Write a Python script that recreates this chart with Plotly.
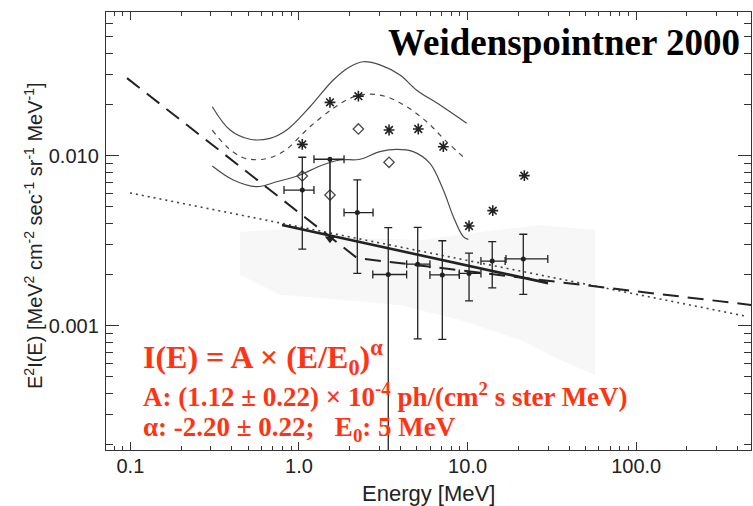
import numpy as np
import plotly.graph_objects as go

# ---- data ----
# measured points with error bars
E_pts = [1.046, 2.218, 3.385, 5.06, 7.08, 10.2, 14.0, 21.4]
V_pts = [0.00628, 0.00463, 0.00200, 0.00230, 0.00199, 0.00203, 0.00240, 0.00247]
V_hi = [0.00979, 0.00720, 0.00377, 0.00379, 0.00316, 0.00267, 0.00312, 0.00345]
V_lo = [0.00282, 0.00203, 0.0001, 0.000836, 0.000832, 0.00140, 0.00167, 0.00153]
E_lo = [0.815, 1.85, 2.74, 4.35, 5.98, 8.93, 12.0, 16.9]
E_hi = [1.227, 2.75, 4.35, 5.98, 8.93, 12.0, 16.7, 29.9]

# upper limit point
E_ul = [1.527]
V_ul = [0.00953]
E_ul_lo = [1.227]
E_ul_hi = [1.85]
V_ul_arrow = [0.00325]

# asterisks and diamonds
E_ast = [1.046, 1.527, 2.25, 3.42, 5.10, 7.18, 10.2, 14.1, 21.7]
V_ast = [0.01166, 0.0206, 0.0224, 0.01416, 0.01436, 0.0113, 0.00386, 0.00475, 0.00763]
E_dia = [1.046, 1.527, 2.25, 3.42]
V_dia = [0.0076, 0.00587, 0.01436, 0.00915]

# thin curves
E_up = [0.306, 0.390, 0.512, 0.673, 0.846, 1.162, 1.597, 2.005, 2.405, 3.02, 3.97, 4.99, 6.86, 9.88]
V_up = [0.0194, 0.01415, 0.01249, 0.01265, 0.01415, 0.0194, 0.0279, 0.0334, 0.0357, 0.0342, 0.0298, 0.0243, 0.01987, 0.01553]
E_mid = [0.306, 0.373, 0.467, 0.614, 0.807, 1.162, 1.597, 2.005, 2.52, 3.31, 4.35, 5.72, 7.52, 9.88]
V_mid = [0.01415, 0.0113, 0.00973, 0.00953, 0.01057, 0.01481, 0.0190, 0.02176, 0.02297, 0.02223, 0.0194, 0.01585, 0.01207, 0.00943]
E_low = [0.306, 0.408, 0.561, 0.738, 1.014, 1.332, 1.75, 2.30, 3.02, 3.80, 4.76, 5.98, 7.18, 8.23, 9.43, 10.1]
V_low = [0.00870, 0.00719, 0.00657, 0.00703, 0.0077, 0.00870, 0.00943, 0.00953, 0.01057, 0.0109, 0.01057, 0.00902, 0.00628, 0.00438, 0.00334, 0.00322]

# straight lines
E_dash = [0.0955, 2.21, 493.0]
V_dash = [0.0286, 0.00250, 0.00132]
E_dot = [0.0995, 442.0]
V_dot = [0.00604, 0.00114]
E_fit = [0.793, 30.0]
V_fit = [0.00391, 0.00178]

# stippled band
E_band = [0.447, 1.01, 2.30, 5.22, 11.85, 26.9, 57.0, 57.0, 35.3, 20.5, 9.02, 3.97, 1.75, 0.771, 0.447]
V_band = [0.00356, 0.00376, 0.00328, 0.00319, 0.00356, 0.00391, 0.00365, 0.000513, 0.000628, 0.000824, 0.00108, 0.00132, 0.00142, 0.00152, 0.00199]

x_tickvals = [0.1, 1, 10, 100]
x_ticktext = ["0.1", "1.0", "10.0", "100.0"]
y_tickvals = [0.001, 0.01]
y_ticktext = ["0.001", "0.010"]

RED = "rgb(255,52,20)"
INK = "#222222"
GRAY = "#4a4a4a"

fig = go.Figure()

fig.add_trace(go.Scatter(x=E_band, y=V_band, mode="lines", fill="toself",
                         fillcolor="rgba(0,0,0,0.03)", line=dict(width=0),
                         hoverinfo="skip"))

fig.add_trace(go.Scatter(x=E_up, y=V_up, mode="lines", line=dict(color=GRAY, width=1.2, shape="spline")))
fig.add_trace(go.Scatter(x=E_mid, y=V_mid, mode="lines", line=dict(color=GRAY, width=1.2, shape="spline", dash="5px,5px")))
fig.add_trace(go.Scatter(x=E_low, y=V_low, mode="lines", line=dict(color=GRAY, width=1.2, shape="spline")))

fig.add_trace(go.Scatter(x=E_dot, y=V_dot, mode="lines", line=dict(color="#444", width=1.6, dash="2px,4px")))
fig.add_trace(go.Scatter(x=E_dash, y=V_dash, mode="lines", line=dict(color=INK, width=2, dash="16px,9px")))
fig.add_trace(go.Scatter(x=E_fit, y=V_fit, mode="lines", line=dict(color=INK, width=2.6)))

fig.add_trace(go.Scatter(x=E_ast, y=V_ast, mode="markers",
                         marker=dict(symbol="asterisk-open", size=9, color=INK, line=dict(color=INK, width=1.6))))
fig.add_trace(go.Scatter(x=E_dia, y=V_dia, mode="markers",
                         marker=dict(symbol="diamond-open", size=8, color=GRAY, line=dict(color=GRAY, width=1.3))))

ey_plus = [h - v for h, v in zip(V_hi, V_pts)]
ey_minus = [v - l for l, v in zip(V_lo, V_pts)]
ex_plus = [h - e for h, e in zip(E_hi, E_pts)]
ex_minus = [e - l for l, e in zip(E_lo, E_pts)]
fig.add_trace(go.Scatter(
    x=E_pts, y=V_pts, mode="markers",
    marker=dict(symbol="circle", size=5, color=INK),
    error_y=dict(type="data", symmetric=False, array=ey_plus, arrayminus=ey_minus,
                 color=INK, thickness=1.3, width=4),
    error_x=dict(type="data", symmetric=False, array=ex_plus, arrayminus=ex_minus,
                 color=INK, thickness=1.3, width=4)))

# upper limit
fig.add_trace(go.Scatter(
    x=E_ul, y=V_ul, mode="markers", marker=dict(symbol="circle", size=5, color=INK),
    error_x=dict(type="data", symmetric=False, array=[E_ul_hi[0] - E_ul[0]],
                 arrayminus=[E_ul[0] - E_ul_lo[0]], color=INK, thickness=1.3, width=4)))
fig.add_trace(go.Scatter(x=[E_ul[0], E_ul[0]], y=[V_ul[0], V_ul_arrow[0]], mode="lines",
                         line=dict(color=INK, width=1.6)))
fig.add_trace(go.Scatter(x=E_ul, y=V_ul_arrow, mode="markers",
                         marker=dict(symbol="triangle-down", size=9, color=INK)))

def minor_vals(lo_exp, hi_exp):
    out = []
    for k in range(lo_exp, hi_exp + 1):
        for m in range(2, 10):
            out.append(m * 10.0 ** k)
    return out

axis_common = dict(type="log", showline=True, linecolor="#333", linewidth=1.4, mirror="allticks",
                   ticks="inside", tickcolor="#333", showgrid=False, zeroline=False,
                   tickfont=dict(family="Liberation Sans", size=20, color=INK))

fig.update_xaxes(**axis_common, range=[-1.1447, 2.681], tickmode="array",
                 tickvals=x_tickvals, ticktext=x_ticktext, ticklen=8, tickwidth=1.2,
                 ticklabelstandoff=-2,
                 minor=dict(tickmode="array", tickvals=minor_vals(-2, 2), ticks="inside",
                            ticklen=4, tickcolor="#333", tickwidth=1, showgrid=False))
fig.update_yaxes(**axis_common, range=[-3.7312, -1.1547], tickmode="array",
                 tickvals=y_tickvals, ticktext=y_ticktext, ticklen=13, tickwidth=1.2,
                 ticklabelstandoff=2,
                 minor=dict(tickmode="array", tickvals=minor_vals(-4, -2), ticks="inside",
                            ticklen=7, tickcolor="#333", tickwidth=1, showgrid=False))

def px_x(p):
    return (p - 106) / 645.0

def px_y(p):
    return (450 - p) / 438.0

ann = [
    dict(text="<b>Weidenspointner 2000</b>", x=px_x(386), y=px_y(42), xanchor="left", yanchor="middle",
         font=dict(family="Liberation Serif", size=37, color="black")),
    dict(text="<b>I(E) = A × (E/E<sub>0</sub>)<sup>α</sup></b>", x=px_x(141), y=px_y(357),
         xanchor="left", yanchor="middle", font=dict(family="Liberation Serif", size=32, color=RED)),
    dict(text="<b>A: (1.12 ± 0.22) × 10<sup>-4</sup> ph/(cm<sup>2</sup> s ster MeV)</b>", x=px_x(141), y=px_y(395),
         xanchor="left", yanchor="middle", font=dict(family="Liberation Serif", size=27, color=RED)),
    dict(text="<b>α: -2.20 ± 0.22;\u00a0\u00a0\u00a0E<sub>0</sub>: 5 MeV</b>", x=px_x(141), y=px_y(429),
         xanchor="left", yanchor="middle", font=dict(family="Liberation Serif", size=27, color=RED)),
    dict(text="Energy [MeV]", x=0.5, y=px_y(493), xanchor="center", yanchor="middle",
         font=dict(family="Liberation Sans", size=22, color=INK)),
    dict(text="E<sup>2</sup>I(E) [MeV<sup>2</sup> cm<sup>-2</sup> sec<sup>-1</sup> sr<sup>-1</sup> MeV<sup>-1</sup>]",
         x=px_x(33), y=px_y(236), xanchor="center", yanchor="middle", textangle=-90,
         font=dict(family="Liberation Sans", size=20, color=INK)),
]
for a in ann:
    a.update(xref="paper", yref="paper", showarrow=False)

fig.update_layout(width=753, height=506, margin=dict(l=106, r=2, t=12, b=56),
                  paper_bgcolor="white", plot_bgcolor="white", showlegend=False,
                  annotations=ann)

fig.write_html("out.html")
